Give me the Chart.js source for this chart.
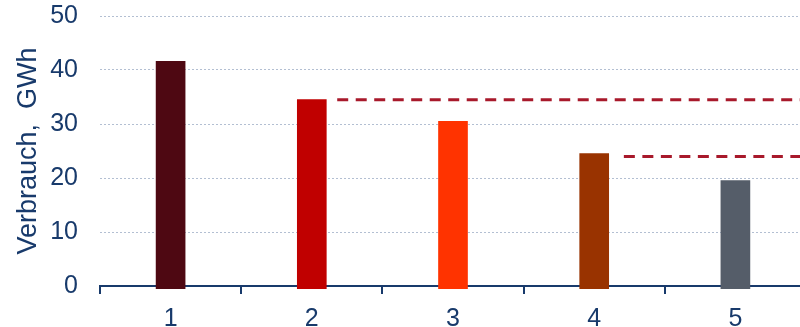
<!DOCTYPE html>
<html>
<head>
<meta charset="utf-8">
<script src="https://cdn.jsdelivr.net/npm/chart.js@4"></script>
<style>
  html, body { margin: 0; padding: 0; overflow: hidden; background: #ffffff; }
  #wrap { width: 806px; height: 327px; }
</style>
</head>
<body>
<div id="wrap"><canvas id="chart"></canvas></div>
<script>
// Consumption per case (GWh)
const categories = ['1', '2', '3', '4', '5'];
const consumption = [41.6, 34.5, 30.5, 24.5, 19.5];
const barColors = ['#4e0812', '#c00000', '#ff3300', '#993300', '#555d69'];

// Dashed reference levels and where each one starts (in category units)
const referenceLevels = [34.5, 24];
const referenceStarts = [1.18, 3.21];

const yMin = 0, yMax = 50, yStep = 10;

const navy = '#183a6b';
const fontFamily = '"Liberation Sans", Arial, sans-serif';

const lastEdge = categories.length - 0.5;
const referenceDatasets = referenceLevels.map((level, i) => ({
  type: 'line',
  xAxisID: 'xRef',
  data: [{ x: referenceStarts[i], y: level }, { x: lastEdge, y: level }],
  borderColor: '#a8192b',
  borderWidth: 3,
  borderDash: [11, 7.5],
  pointRadius: 0,
  fill: false,
  order: 0
}));

new Chart(document.getElementById('chart'), {
  type: 'bar',
  data: {
    labels: categories,
    datasets: [
      {
        data: consumption,
        backgroundColor: barColors,
        barThickness: 29,
        grouped: false,
        base: -0.5,          // bars sit slightly under the axis line
        clip: { left: 0, right: 0, top: 0, bottom: 4 },
        order: 1
      },
      ...referenceDatasets
    ]
  },
  options: {
    responsive: true,
    maintainAspectRatio: false,
    animation: false,
    layout: { padding: { top: 16, right: 0, left: 0, bottom: 0 } },
    plugins: { legend: { display: false }, tooltip: { enabled: false } },
    scales: {
      x: {
        type: 'category',
        offset: true,
        z: 1,
        grid: {
          offset: true,
          drawOnChartArea: false,
          drawTicks: true,
          tickLength: 8,
          color: navy,
          lineWidth: 2
        },
        border: { display: true, color: navy, width: 2 },
        ticks: {
          color: navy,
          font: { family: fontFamily, size: 25 },
          padding: 10
        },
        afterFit: s => { s.height = 41; }
      },
      xRef: {
        type: 'linear',
        display: false,
        position: 'bottom',
        offset: false,
        grid: { offset: false },
        min: -0.5,
        max: lastEdge
      },
      y: {
        min: yMin,
        max: yMax,
        ticks: {
          stepSize: yStep,
          color: navy,
          font: { family: fontFamily, size: 25 },
          padding: 22
        },
        grid: {
          color: '#b3bfd2',
          lineWidth: 1,
          drawTicks: false
        },
        border: { display: false, dash: [2, 2] },
        title: {
          display: true,
          text: 'Verbrauch,  GWh',
          color: navy,
          font: { family: fontFamily, size: 27 },
          padding: { top: 12, bottom: 0 }
        },
        afterFit: s => { s.width = 100; s.paddingTop = 0; s.paddingBottom = 0; }
      }
    }
  }
});
</script>
</body>
</html>
